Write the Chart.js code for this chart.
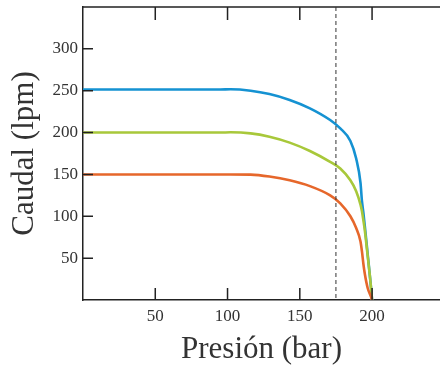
<!DOCTYPE html>
<html>
<head>
<meta charset="utf-8">
<script src="https://cdn.jsdelivr.net/npm/chart.js@4/dist/chart.umd.min.js"></script>
<style>
  html, body { margin: 0; padding: 0; background: #fff; overflow: hidden; }
</style>
</head>
<body>
<canvas id="myChart" width="440" height="365"></canvas>
<script>
// Presion (bar) y caudal (lpm)
var presion = [0, 95, 102, 116, 129, 143, 157, 171, 178, 185, 189, 192, 193, 194, 195, 197, 199, 200];
var caudalAzul = [251.5, 251.5, 251.7, 250, 246, 239, 229, 215, 205, 190, 169, 140, 118, 104, 88, 54, 20, 0];
var caudalVerde = [200, 200, 200.3, 199, 195, 188, 178, 165, 157, 143, 130, 114, 106, 95, 83, 52, 20, 0];
var caudalNaranja = [150, 150, 150, 149.8, 147.5, 143, 136, 125, 115.5, 100, 86, 70, 58, 43, 31, 14, 5, 0];
var xTicks = [50, 100, 150, 200];
var yTicks = [50, 100, 150, 200, 250, 300];
var presionLimite = 175;

function puntos(ys) {
    return presion.map(function (p, i) { return { x: p, y: ys[i] }; });
}

var serif = "'Liberation Serif', 'DejaVu Serif', serif";
var ink = "#222";

// marco superior, ticks hacia dentro y linea discontinua
var extras = {
    id: "extras",
    afterDatasetsDraw: function (chart) {
        var ctx = chart.ctx;
        var a = chart.chartArea;
        var xs = chart.scales.x;
        var ys = chart.scales.y;
        ctx.save();
        ctx.strokeStyle = ink;
        ctx.lineWidth = 1.5;
        ctx.beginPath();
        ctx.moveTo(a.left, a.top);
        ctx.lineTo(chart.width, a.top);
        xTicks.forEach(function (v) {
            var px = xs.getPixelForValue(v);
            ctx.moveTo(px, a.bottom);
            ctx.lineTo(px, a.bottom - 12);
            ctx.moveTo(px, a.top);
            ctx.lineTo(px, a.top + 13);
        });
        yTicks.forEach(function (v) {
            var py = ys.getPixelForValue(v);
            ctx.moveTo(a.left, py);
            ctx.lineTo(a.left + 10, py);
        });
        ctx.stroke();

        var dx = xs.getPixelForValue(presionLimite);
        ctx.lineWidth = 1;
        ctx.strokeStyle = "#333";
        ctx.setLineDash([4, 3]);
        ctx.beginPath();
        ctx.moveTo(dx, a.top);
        ctx.lineTo(dx, a.bottom);
        ctx.stroke();
        ctx.restore();
    }
};

new Chart("myChart", {
    type: "line",
    data: {
        datasets: [{
            data: puntos(caudalNaranja),
            borderColor: "#e6672b",
            borderWidth: 2.6,
            pointRadius: 0,
            cubicInterpolationMode: "monotone",
            fill: false
        }, {
            data: puntos(caudalVerde),
            borderColor: "#a8c83a",
            borderWidth: 2.6,
            pointRadius: 0,
            cubicInterpolationMode: "monotone",
            fill: false
        }, {
            data: puntos(caudalAzul),
            borderColor: "#1592d2",
            borderWidth: 2.6,
            pointRadius: 0,
            cubicInterpolationMode: "monotone",
            fill: false
        }]
    },
    options: {
        responsive: false,
        animation: false,
        layout: { padding: { top: 7, right: 0, left: 0, bottom: 0 } },
        plugins: { legend: { display: false }, tooltip: { enabled: false } },
        scales: {
            x: {
                type: "linear",
                min: 0,
                max: 247,
                afterBuildTicks: function (s) {
                    s.ticks = xTicks.map(function (v) { return { value: v }; });
                },
                afterFit: function (s) {
                    s.height = 65;
                    s.paddingLeft = 0;
                    s.paddingRight = 0;
                },
                grid: { display: false, drawTicks: false, tickLength: 0 },
                border: { display: true, color: ink, width: 1.5 },
                ticks: {
                    color: "#333",
                    padding: 6,
                    maxRotation: 0,
                    font: { family: serif, size: 17 }
                },
                title: {
                    display: true,
                    text: "Presión (bar)",
                    color: "#333",
                    padding: { top: 0, bottom: -3 },
                    font: { family: serif, size: 31 }
                }
            },
            y: {
                min: 0,
                max: 350,
                afterBuildTicks: function (s) {
                    s.ticks = yTicks.map(function (v) { return { value: v }; });
                },
                afterFit: function (s) {
                    s.width = 83;
                    s.paddingTop = 0;
                    s.paddingBottom = 0;
                },
                grid: { display: false, drawTicks: false, tickLength: 0 },
                border: { display: true, color: ink, width: 1.5 },
                ticks: {
                    color: "#333",
                    padding: 5,
                    font: { family: serif, size: 17 }
                },
                title: {
                    display: true,
                    text: "Caudal (lpm)",
                    color: "#333",
                    padding: { top: 6, bottom: 2 },
                    font: { family: serif, size: 31 }
                }
            }
        }
    },
    plugins: [extras]
});
</script>
</body>
</html>
